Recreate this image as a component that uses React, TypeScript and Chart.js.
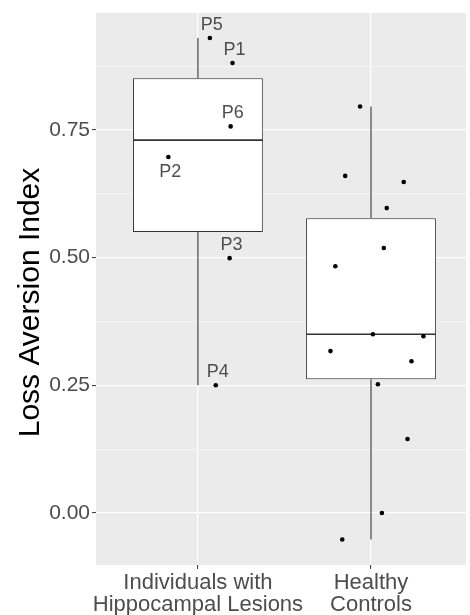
import React, { useEffect, useRef } from 'react';
import { Chart, registerables } from 'chart.js';

Chart.register(...registerables);

// ---- data ----
const categories: string[][] = [
  ['Individuals with', 'Hippocampal Lesions'],
  ['Healthy', 'Controls'],
];
const groupPositions = [1, 2];

const q1 = [0.55, 0.262];
const medians = [0.73, 0.35];
const q3 = [0.851, 0.577];
const whiskerLow = [0.25, -0.052];
const whiskerHigh = [0.93, 0.796];

const lesionLabels = ['P5', 'P1', 'P6', 'P2', 'P3', 'P4'];
const lesionValues = [0.93, 0.881, 0.757, 0.697, 0.499, 0.25];
const lesionX = [1.069, 1.2, 1.189, 0.829, 1.183, 1.103];
const lesionLabelSide = ['above', 'above', 'above', 'below', 'above', 'above'];

const controlValues = [0.796, 0.66, 0.648, 0.597, 0.519, 0.483, 0.35, 0.346, 0.317, 0.297, 0.252, 0.145, 0.0, -0.052];
const controlX = [1.937, 1.851, 2.189, 2.091, 2.074, 1.794, 2.011, 2.303, 1.766, 2.234, 2.04, 2.211, 2.063, 1.834];

const yMajorTicks = [0, 0.25, 0.5, 0.75];
const yMinorTicks = [0.125, 0.375, 0.625, 0.875];

const yTitle = 'Loss Aversion Index';

// ---- styling constants ----
const FONT = "'Liberation Sans', Arial, Helvetica, sans-serif";
const BOX_WIDTH = 0.75;
const LINE_COLOR = '#333333';
const TEXT_GRAY = '#4D4D4D';

const isMajor = (v: number | undefined) =>
  v !== undefined && yMajorTicks.some((m) => Math.abs(m - v) < 1e-9);

export default function App() {
  const ref = useRef<HTMLCanvasElement | null>(null);

  useEffect(() => {
    if (!ref.current) return;

    const whiskerData: any[] = [];
    groupPositions.forEach((x, i) => {
      whiskerData.push({ x, y: q3[i] }, { x, y: whiskerHigh[i] }, { x, y: null });
      whiskerData.push({ x, y: q1[i] }, { x, y: whiskerLow[i] }, { x, y: null });
    });
    const medianData: any[] = [];
    groupPositions.forEach((x, i) => {
      medianData.push(
        { x: x - BOX_WIDTH / 2, y: medians[i] },
        { x: x + BOX_WIDTH / 2, y: medians[i] },
        { x, y: null }
      );
    });
    const pointData = [
      ...lesionValues.map((y, i) => ({ x: lesionX[i], y })),
      ...controlValues.map((y, i) => ({ x: controlX[i], y })),
    ];

    const bgPlugin = {
      id: 'panelBg',
      beforeDraw(chart: any) {
        const { ctx, chartArea } = chart;
        ctx.save();
        ctx.fillStyle = '#EBEBEB';
        ctx.fillRect(chartArea.left, chartArea.top, chartArea.right - chartArea.left, chartArea.bottom - chartArea.top);
        ctx.restore();
      },
    };

    const labelPlugin = {
      id: 'pointLabels',
      afterDatasetsDraw(chart: any) {
        const { ctx } = chart;
        const xs = chart.scales.x;
        const ys = chart.scales.y;
        ctx.save();
        ctx.fillStyle = TEXT_GRAY;
        ctx.font = `18px ${FONT}`;
        ctx.textAlign = 'center';
        ctx.textBaseline = 'middle';
        lesionLabels.forEach((lab, i) => {
          const px = xs.getPixelForValue(lesionX[i]) + 2;
          const py = ys.getPixelForValue(lesionValues[i]) + (lesionLabelSide[i] === 'above' ? -13 : 15);
          ctx.fillText(lab, px, py);
        });
        ctx.restore();
      },
    };

    const titlePlugin = {
      id: 'yTitle',
      afterDraw(chart: any) {
        const { ctx, chartArea } = chart;
        ctx.save();
        ctx.translate(chartArea.left - 57, (chartArea.top + chartArea.bottom) / 2 + 13.5);
        ctx.rotate(-Math.PI / 2);
        ctx.fillStyle = '#000000';
        ctx.font = `30px ${FONT}`;
        ctx.textAlign = 'center';
        ctx.textBaseline = 'alphabetic';
        ctx.fillText(yTitle, 0, 0);
        ctx.restore();
      },
    };

    const chart = new Chart(ref.current, {
      data: {
        datasets: [
          {
            type: 'bar',
            data: groupPositions.map((x, i) => ({ x, y: [q1[i], q3[i]] })) as any,
            backgroundColor: '#FFFFFF',
            borderColor: LINE_COLOR,
            borderWidth: 1,
            borderSkipped: false,
            barPercentage: BOX_WIDTH,
            categoryPercentage: 1,
            order: 4,
          } as any,
          {
            type: 'line',
            data: whiskerData,
            borderColor: LINE_COLOR,
            borderWidth: 1.1,
            pointRadius: 0,
            spanGaps: false,
            fill: false,
            order: 3,
          } as any,
          {
            type: 'line',
            data: medianData,
            borderColor: LINE_COLOR,
            borderWidth: 1.6,
            pointRadius: 0,
            spanGaps: false,
            fill: false,
            order: 2,
          } as any,
          {
            type: 'scatter',
            data: pointData,
            backgroundColor: '#000000',
            borderWidth: 0,
            pointRadius: 2.3,
            order: 1,
          } as any,
        ],
      },
      options: {
        responsive: false,
        animation: false,
        layout: { padding: { top: 13, right: 0, left: 0, bottom: 0 } },
        plugins: {
          legend: { display: false },
          tooltip: { enabled: false },
        },
        scales: {
          x: {
            type: 'linear',
            min: 0.411,
            max: 2.549,
            offset: false,
            border: { display: false },
            afterBuildTicks: (scale: any) => {
              scale.ticks = groupPositions.map((v) => ({ value: v }));
            },
            afterFit: (scale: any) => {
              scale.height = 50;
              scale.paddingLeft = 0;
              scale.paddingRight = 0;
            },
            grid: {
              offset: false,
              color: '#FFFFFF',
              lineWidth: 1.2,
              tickColor: LINE_COLOR,
              tickWidth: 1,
              tickLength: 4,
            },
            ticks: {
              autoSkip: false,
              maxRotation: 0,
              minRotation: 0,
              padding: 3,
              color: TEXT_GRAY,
              font: { family: FONT, size: 22, lineHeight: 1.0 },
              callback: (value: any) => {
                const idx = groupPositions.indexOf(Number(value));
                return idx >= 0 ? categories[idx] : '';
              },
            },
          },
          y: {
            type: 'linear',
            min: -0.1018,
            max: 0.979,
            border: { display: false },
            afterBuildTicks: (scale: any) => {
              scale.ticks = [...yMajorTicks, ...yMinorTicks].sort((a, b) => a - b).map((v) => ({ value: v }));
            },
            afterFit: (scale: any) => {
              scale.width = 96;
              scale.paddingTop = 0;
              scale.paddingBottom = 0;
            },
            grid: {
              color: (ctx: any) => (isMajor(ctx.tick?.value) ? '#FFFFFF' : '#F6F6F6'),
              lineWidth: (ctx: any) => (isMajor(ctx.tick?.value) ? 1.2 : 0.8),
              tickColor: (ctx: any) => (isMajor(ctx.tick?.value) ? LINE_COLOR : 'rgba(0,0,0,0)'),
              tickWidth: 1,
              tickLength: 4,
            },
            ticks: {
              autoSkip: false,
              padding: 2,
              color: TEXT_GRAY,
              font: { family: FONT, size: 21 },
              callback: (value: any) => (isMajor(Number(value)) ? Number(value).toFixed(2) : ''),
            },
          },
        },
      } as any,
      plugins: [bgPlugin, labelPlugin, titlePlugin],
    });

    return () => chart.destroy();
  }, []);

  return (
    <div style={{ position: 'absolute', left: 0, top: 0, width: 470, height: 615, background: '#FFFFFF' }}>
      <canvas ref={ref} width={470} height={615} style={{ display: 'block', width: 470, height: 615 }} />
    </div>
  );
}
